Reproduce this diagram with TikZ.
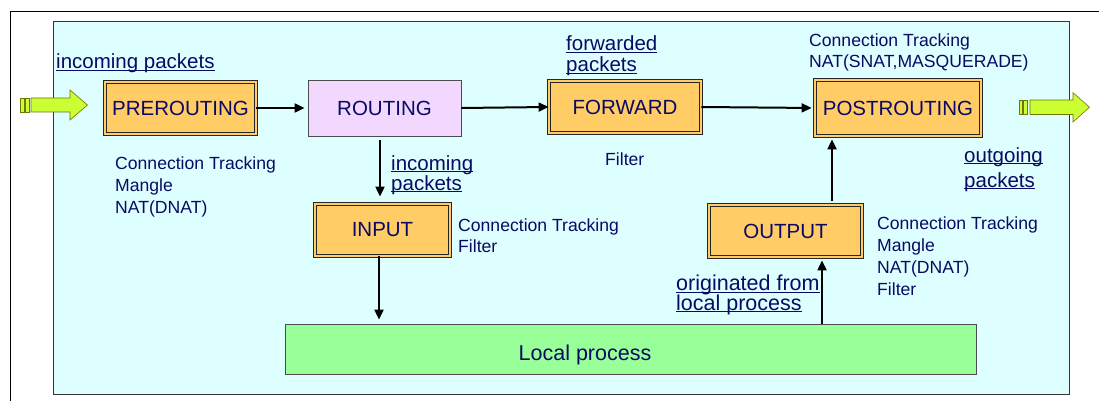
\documentclass[tikz,border=0pt]{standalone}
\usepackage{fontspec}
\setmainfont{Liberation Sans}
\usetikzlibrary{arrows.meta}
\definecolor{navy}{RGB}{10,10,100}
\definecolor{bgcyan}{RGB}{221,255,255}
\definecolor{chainorange}{RGB}{255,204,102}
\definecolor{routpurple}{RGB}{242,216,255}
\definecolor{localgreen}{RGB}{153,255,153}
\definecolor{arrowgreen}{RGB}{204,255,51}
\definecolor{arrowedge}{RGB}{110,120,0}
\newcommand\ulx[1]{\underline{\smash{#1}}}
\begin{document}
\begin{tikzpicture}[x=1pt,y=-1pt,
  chainbox/.style={draw=black!85, line width=0.8pt, double=chainorange, double distance=2.6pt,
    fill=chainorange, inner sep=0pt, text=navy, font=\fontsize{20.5}{24}\selectfont},
  plainbox/.style={draw=black!70, line width=0.8pt, inner sep=0pt, text=navy, font=\fontsize{20.5}{24}\selectfont},
  note/.style={anchor=base west, inner sep=0pt, align=left, text=navy, font=\fontsize{17.6}{22}\selectfont},
  ulabel/.style={anchor=base west, inner sep=0pt, align=left, text=navy},
  arr/.style={line width=2pt, -{Triangle[length=10pt,width=9pt]}},
  bigarrow/.style={fill=arrowgreen, draw=arrowedge, line width=0.6pt}]
\useasboundingbox (0,0) rectangle (1099,401);
% outer frame
\draw[black, line width=0.8pt] (10,401) -- (10,11) -- (1099,11);
% background panel
\filldraw[fill=bgcyan, draw=black!80, line width=0.8pt] (53,21) rectangle (1069,394);

% boxes
\node[chainbox, minimum width=151pt, minimum height=52pt] (pre) at (180.5,108) {PREROUTING};
\node[plainbox, fill=routpurple, minimum width=153pt, minimum height=56pt] (rout) at (384.5,108) {ROUTING};
\node[chainbox, minimum width=152pt, minimum height=52pt] (fwd) at (625,107) {FORWARD};
\node[chainbox, minimum width=166pt, minimum height=56pt] (post) at (898,108) {POSTROUTING};
\node[chainbox, minimum width=135pt, minimum height=52pt] (inp) at (382.5,230) {INPUT};
\node[chainbox, minimum width=153pt, minimum height=52pt] (out) at (785.5,231) {OUTPUT};
\node[plainbox, fill=localgreen, minimum width=691pt, minimum height=50pt] (local) at (630.5,349) {};
\node[anchor=base, inner sep=0pt, text=navy, font=\fontsize{21.5}{24}\selectfont] (localtxt) at (585,360) {Local process};

% connectors
\draw[arr, shorten >=3pt] (pre.east) -- (rout.west);
\draw[arr] (rout.east) -- (fwd.west);
\draw[arr, shorten >=3pt] (fwd.east) -- (post.west);
\draw[arr, shorten <=4pt, shorten >=7pt] ([xshift=-4.5pt]rout.south) -- ([xshift=-4.5pt]rout.south |- inp.north);
\draw[arr, shorten >=4pt] ([xshift=-3.5pt]inp.south) -- ([xshift=-3.5pt]inp.south |- local.north);
\draw[arr, shorten >=3pt] ([xshift=36.5pt]out.south |- local.north) -- ([xshift=36.5pt]out.south);
\draw[arr, shorten <=4pt, shorten >=3pt] ([xshift=46.5pt]out.north) -- ([xshift=46.5pt]out.north |- post.south);

% big green arrows
\filldraw[bigarrow] (20.7,98) rectangle (24,112);
\filldraw[bigarrow] (25.5,98) rectangle (29,112);
\filldraw[bigarrow] (31,98) -- (70,98) -- (70,90) -- (87.5,105) -- (70,120) -- (70,112) -- (31,112) -- cycle;
\filldraw[bigarrow] (1019,100) rectangle (1022,114.5);
\filldraw[bigarrow] (1023.5,100) rectangle (1027.5,114.5);
\filldraw[bigarrow] (1030,100) -- (1073,100) -- (1073,92.7) -- (1089.5,107.2) -- (1073,122) -- (1073,114.5) -- (1030,114.5) -- cycle;

% labels (base anchor = baseline of the last line)
\node[ulabel, font=\fontsize{20.5}{24}\selectfont] (inlab) at (56,69) {\ulx{incoming packets}};
\node[note] (prenote) at (115,213) {Connection Tracking\\Mangle\\NAT(DNAT)};
\node[ulabel, font=\fontsize{20.5}{20}\selectfont] (rinlab) at (391,190) {\ulx{incoming}\\\ulx{packets}};
\node[ulabel, font=\fontsize{20.5}{21}\selectfont] (fwdlab) at (566,72) {\ulx{forwarded}\\\ulx{packets}};
\node[note, font=\fontsize{17.6}{21}\selectfont] (postnote) at (809,68) {Connection Tracking\\NAT(SNAT,MASQUERADE)};
\node[note] (fwdnote) at (605,165) {Filter};
\node[ulabel, font=\fontsize{20.5}{25}\selectfont] (outlab) at (964,187) {\ulx{outgoing}\\\ulx{packets}};
\node[note, font=\fontsize{17.6}{21}\selectfont] (inpnote) at (458,252) {Connection Tracking\\Filter};
\node[note] (outnote) at (877,295) {Connection Tracking\\Mangle\\NAT(DNAT)\\Filter};
\node[ulabel, font=\fontsize{21.5}{19.5}\selectfont] (origlab) at (676,310) {\ulx{originated from}\\\ulx{local process}};
\end{tikzpicture}
\end{document}
